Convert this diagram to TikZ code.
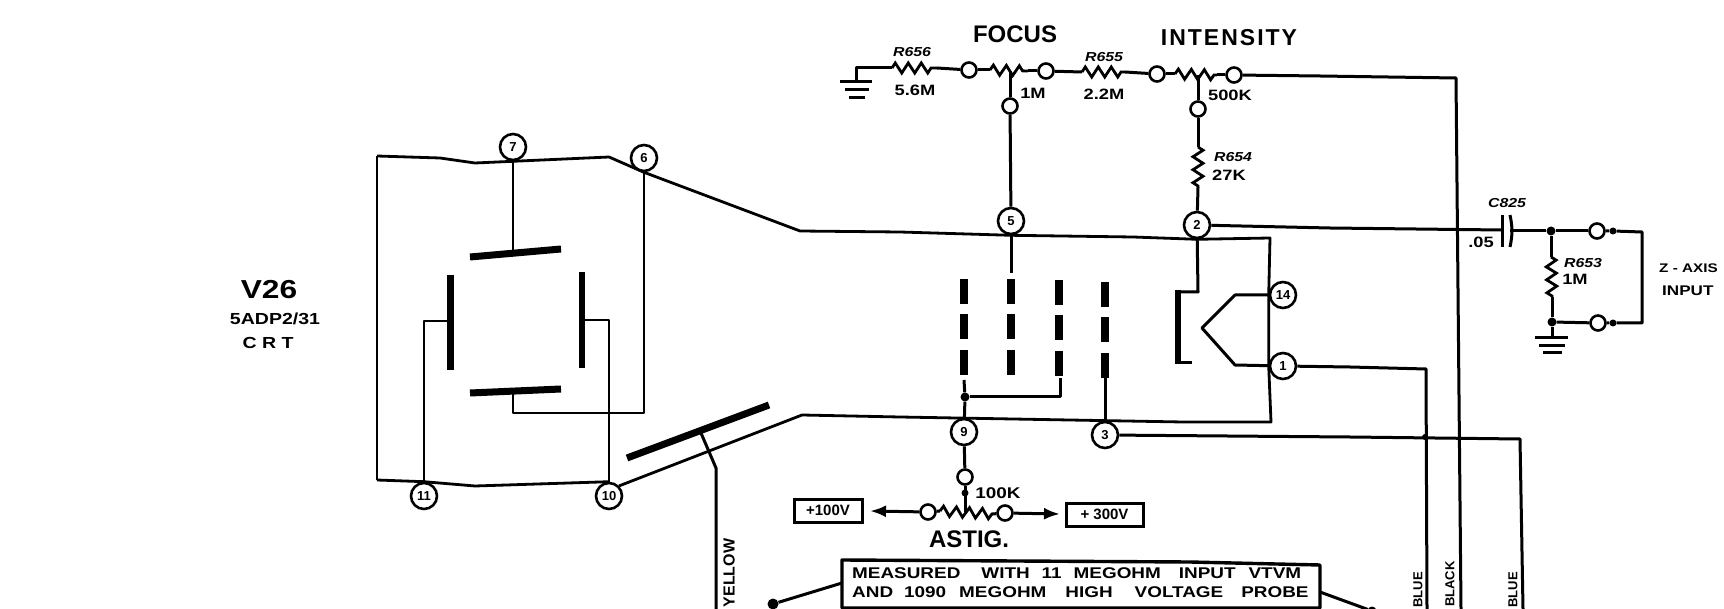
\documentclass[tikz,border=0pt]{standalone}
\usepackage{fontspec}
\setmainfont{Liberation Sans}
\newfontfamily\wf[FakeStretch=1.22]{Liberation Sans}
\usetikzlibrary{decorations.pathmorphing,arrows.meta}
\newcommand{\fsz}[1]{\fontsize{#1}{#1}\selectfont}
\tikzset{
  wire/.style={line width=3pt,line join=round},
  thin wire/.style={line width=2.8pt,line join=round},
  plate/.style={line width=7pt},
  grid bar/.style={line width=7.5pt,dash pattern=on 25pt off 10.5pt},
  term/.style={circle,draw,line width=2.6pt,fill=white,inner sep=0pt,minimum size=15pt},
  pin/.style={circle,draw,line width=2.6pt,fill=white,inner sep=0pt,minimum size=26pt,font=\bfseries\fsz{13}},
  dot/.style={circle,fill=black,inner sep=0pt,minimum size=9pt},
  res/.style={line width=2.8pt,decorate,decoration={zigzag,segment length=13pt,amplitude=5pt}},
  lab/.style={inner sep=0pt,font=\wf\bfseries\fsz{15}},
  rlab/.style={inner sep=0pt,font=\wf\bfseries\itshape\fsz{13}},
  title/.style={inner sep=0pt,font=\bfseries\fsz{24}},
  bus/.style={draw,line width=3pt,inner sep=0pt,font=\bfseries\fsz{15}},
  wirelab/.style={inner sep=0pt,rotate=90,font=\bfseries\fsz{13}},
  tip/.style={-{Latex[length=16pt,width=12pt]}}
}
\begin{document}
\begin{tikzpicture}[x=1pt,y=-1pt]
\useasboundingbox (0,0) rectangle (1724,609);
\clip (0,0) rectangle (1724,609);
\fill[white] (0,0) rectangle (1724,609);

% coordinates
\coordinate (tl) at (377,156);
\coordinate (bl) at (377,480);
\coordinate (sl1) at (609,157);
\coordinate (neck1) at (800,231);
\coordinate (neck2) at (802,415);
\coordinate (tr) at (1270,238);
\coordinate (br) at (1271,422);
\coordinate (gndA) at (856,82);
\coordinate (gndB) at (1552,338);

% pins
\node[pin] (p7) at (513,147) {7};
\node[pin] (p6) at (644,158) {6};
\node[pin] (p11) at (424,496) {11};
\node[pin] (p10) at (609,496) {10};
\node[pin] (p5) at (1011,221) {5};
\node[pin] (p2) at (1197,225) {2};
\node[pin] (p14) at (1283,295) {14};
\node[pin] (p1) at (1283,366) {1};
\node[pin] (p9) at (964,432) {9};
\node[pin] (p3) at (1105,435) {3};

% terminals
\node[term] (fa) at (969,70) {};
\node[term] (fb) at (1046,71) {};
\node[term] (fw) at (1010,106) {};
\node[term] (ia) at (1157,74) {};
\node[term] (ib) at (1234,75) {};
\node[term] (iw) at (1198,109) {};
\node[term] (aa) at (928,512) {};
\node[term] (ab) at (1005,513) {};
\node[term] (aw) at (965,477) {};
\node[term] (za) at (1597,231) {};
\node[term] (zb) at (1598,323) {};
\node[dot,minimum size=7pt] (zc) at (1613,231) {};
\node[dot,minimum size=7pt] (zd) at (1613,323) {};
\node[dot] (jt) at (1551,231) {};
\node[dot] (jb) at (1552,322) {};
\node[dot] (j9) at (965,397) {};
\node[dot,minimum size=6pt] (jx) at (1425,437) {};
\coordinate (zr1) at (1642,232);
\coordinate (zr2) at (1642,323);

% tube outline
\draw[thin wire] (tl) -- (bl);
\draw[thin wire] (tl) -- (440,158) -- (475,163) -- (p7.south) -- (sl1) -- (p6.south) -- (neck1) -- (900,232) -- (p5.south) -- (1133,237) -- (p2.south) -- (tr) -- (p14.west) -- (p1.west) -- (br) -- (1183,422) -- (900,417) -- (neck2) -- (p10.north east);
\draw[thin wire] (bl) -- (p11.north) -- (475,486) -- (p10.north);

% deflection plates
\draw[plate] (470,257) -- (561,249);
\draw[plate] (470,393) -- (561,389);
\draw[plate] (450,275) -- (450,370);
\draw[line width=6pt] (582,272) -- (582,368);
\draw[thin wire] (p7) -- (513,253);
\draw[thin wire] (513,391) -- (513,413) -- (644,413) -- (p6);
\draw[thin wire] (450,321) -- (424,321) -- (p11);
\draw[thin wire] (582,320) -- (609,320) -- (p10);

% screen
\draw[plate] (627,458) -- (769,405);
\draw[wire] (701,433) -- (716,468) -- (716,609);

% grids
\foreach \gx/\gy in {964/279,1011/279,1059/280,1105/282}
  \draw[grid bar] (\gx,\gy) -- (\gx,\gy+97);
\draw[wire] (p5) -- (1011,273);
\draw[wire] (964,380) -- (j9) -- (p9);
\draw[wire] (j9) -- (1060,397) -- (1060,378);
\draw[wire] (1105,378) -- (p3);

% cathode and heater
\draw[wire] (p2) -- (1198,292) -- (1178,292);
\draw[line width=5.5pt] (1178,290) -- (1178,364);
\draw[wire] (1176,363) -- (1192,363);
\draw[wire] (p14) -- (1235,295) -- (1202,328) -- (1235,365) -- (p1);

% upper divider
\draw[wire] (gndA) -- (856,68) -- (892,68);
\draw[res] (892,68) -- (937,68);
\draw[wire] (937,68) -- (fa);
\draw[wire] (fa) -- (990,70);
\draw[res] (990,70) -- (1028,71);
\draw[wire] (1028,71) -- (fb);
\draw[wire] (fb) -- (1082,72);
\draw[res] (1082,72) -- (1125,72);
\draw[wire] (1125,72) -- (ia);
\draw[wire] (ia) -- (1175,74);
\draw[res] (1175,74) -- (1217,75);
\draw[wire] (1217,75) -- (ib);
\draw[wire] (1010,71) -- (fw);
\draw[wire] (fw) -- (p5);
\draw[wire] (1198,75) -- (iw);
\draw[wire] (iw) -- (1198,147);
\draw[res] (1198,147) -- (1198,187);
\draw[wire] (1198,187) -- (p2);
\draw[wire] (ib) -- (1320,76) -- (1456,78) -- (1461,609);
\draw[wire] (840,82) -- (872,82);
\draw[wire] (845,90) -- (869,90);
\draw[wire] (849,98) -- (865,98);

% Z axis input
\draw[wire] (p2) -- (1330,228) -- (1502,230);
\draw[wire] (1502,215) -- (1502,247);
\draw[wire] (1510,215) to[bend left=12] (1510,247);
\draw[wire] (1510,231) -- (jt);
\draw[wire] (jt) -- (za);
\draw[wire] (za) -- (zc) -- (zr1) -- (zr2) -- (zd) -- (zb) -- (jb);
\draw[wire] (jt) -- (1551,257);
\draw[res] (1551,257) -- (1552,297);
\draw[wire] (1552,297) -- (jb) -- (gndB);
\draw[wire] (1535,338) -- (1568,338);
\draw[wire] (1539,346) -- (1565,346);
\draw[wire] (1543,353) -- (1562,353);

% long wires
\draw[wire] (p1) -- (1350,367) -- (1426,369) -- (1427,609);
\draw[wire] (p3) -- (1350,437) -- (1520,439) -- (1523,609);

% astig
\draw[wire] (p9) -- (aw);
\draw[wire] (aw) -- (965,512);
\node[dot,minimum size=7pt] (ja) at (965,493) {};
\draw[wire] (aa) -- (940,511);
\draw[res] (940,511) -- (992,514);
\draw[wire] (992,514) -- (ab);
\node[bus,minimum width=68pt,minimum height=23pt] (b100) at (828,510.5) {+100V};
\node[bus,minimum width=77pt,minimum height=23pt] (b300) at (1104.5,514.5) {+ 300V};
\draw[wire,tip] (aa) -- (870,511);
\draw[wire,tip] (ab) -- (1060,514);

% measurement box
\coordinate (mb1) at (842,560);
\coordinate (mb2) at (1190,562);
\coordinate (mb3) at (1320,565);
\coordinate (mb4) at (1320,608);
\coordinate (mb5) at (842,608);
\draw[line width=3.4pt,line join=round] (mb1) -- (mb2) -- (mb3) -- (mb4) -- (mb5) -- cycle;
\node[inner sep=0pt,anchor=west,font=\wf\bfseries\fsz{15.5}] (mt1) at (852,573) {MEASURED\hspace{21pt}WITH\hspace{12pt}11\hspace{12pt}MEGOHM\hspace{18pt}INPUT\hspace{13pt}VTVM};
\node[inner sep=0pt,anchor=west,font=\wf\bfseries\fsz{15.5}] (mt2) at (852,592) {AND\hspace{11pt}1090\hspace{13pt}MEGOHM\hspace{19pt}HIGH\hspace{22pt}VOLTAGE\hspace{18pt}PROBE};
\node[dot,minimum size=11pt] (pl) at (773,604) {};
\node[dot,minimum size=9pt] (prd) at (1372,611) {};
\draw[wire] (842,583) -- (pl);
\draw[wire] (1320,592) -- (prd);

% titles
\node[title] (tf) at (1015,34) {FOCUS};
\node[title,font=\bfseries\fsz{23}] (ti) at (1229,38) {I\hspace{2pt}N\hspace{2pt}T\hspace{2pt}E\hspace{2pt}N\hspace{2pt}S\hspace{2pt}I\hspace{2pt}T\hspace{2pt}Y};
\node[title] (ta) at (969,539) {ASTIG.};
\node[inner sep=0pt,font=\wf\bfseries\fsz{26}] (v26) at (269,290) {V26};
\node[inner sep=0pt,font=\wf\bfseries\fsz{16}] (v26b) at (275,319) {5ADP2/31};
\node[inner sep=0pt,font=\wf\bfseries\fsz{16}] (v26c) at (268,343) {C R T};

% component labels
\node[rlab] (l1) at (912,52) {R656};
\node[lab] (l2) at (915,90) {5.6M};
\node[lab] (l3) at (1033,93) {1M};
\node[rlab] (l4) at (1104,57) {R655};
\node[lab] (l5) at (1104,94) {2.2M};
\node[lab] (l6) at (1230,95) {500K};
\node[rlab] (l7) at (1233,157) {R654};
\node[lab] (l8) at (1229,175) {27K};
\node[rlab] (l9) at (1507,203) {C825};
\node[lab] (l10) at (1481,242) {.05};
\node[rlab] (l11) at (1583,263) {R653};
\node[lab] (l12) at (1575,279) {1M};
\node[inner sep=0pt,anchor=west,font=\wf\bfseries\fsz{12.5}] (l13) at (1659,268) {Z - AXIS};
\node[inner sep=0pt,anchor=west,font=\wf\bfseries\fsz{14}] (l14) at (1662,291) {INPUT};
\node[lab,font=\wf\bfseries\fsz{15.5}] (l15) at (998,493) {100K};

% wire colours
\node[wirelab,font=\bfseries\fsz{16}] (y1) at (729,573) {YELLOW};
\node[wirelab] (c1) at (1418,590) {BLUE};
\node[wirelab] (c2) at (1450,584) {BLACK};
\node[wirelab] (c3) at (1513,590) {BLUE};
\end{tikzpicture}
\end{document}
